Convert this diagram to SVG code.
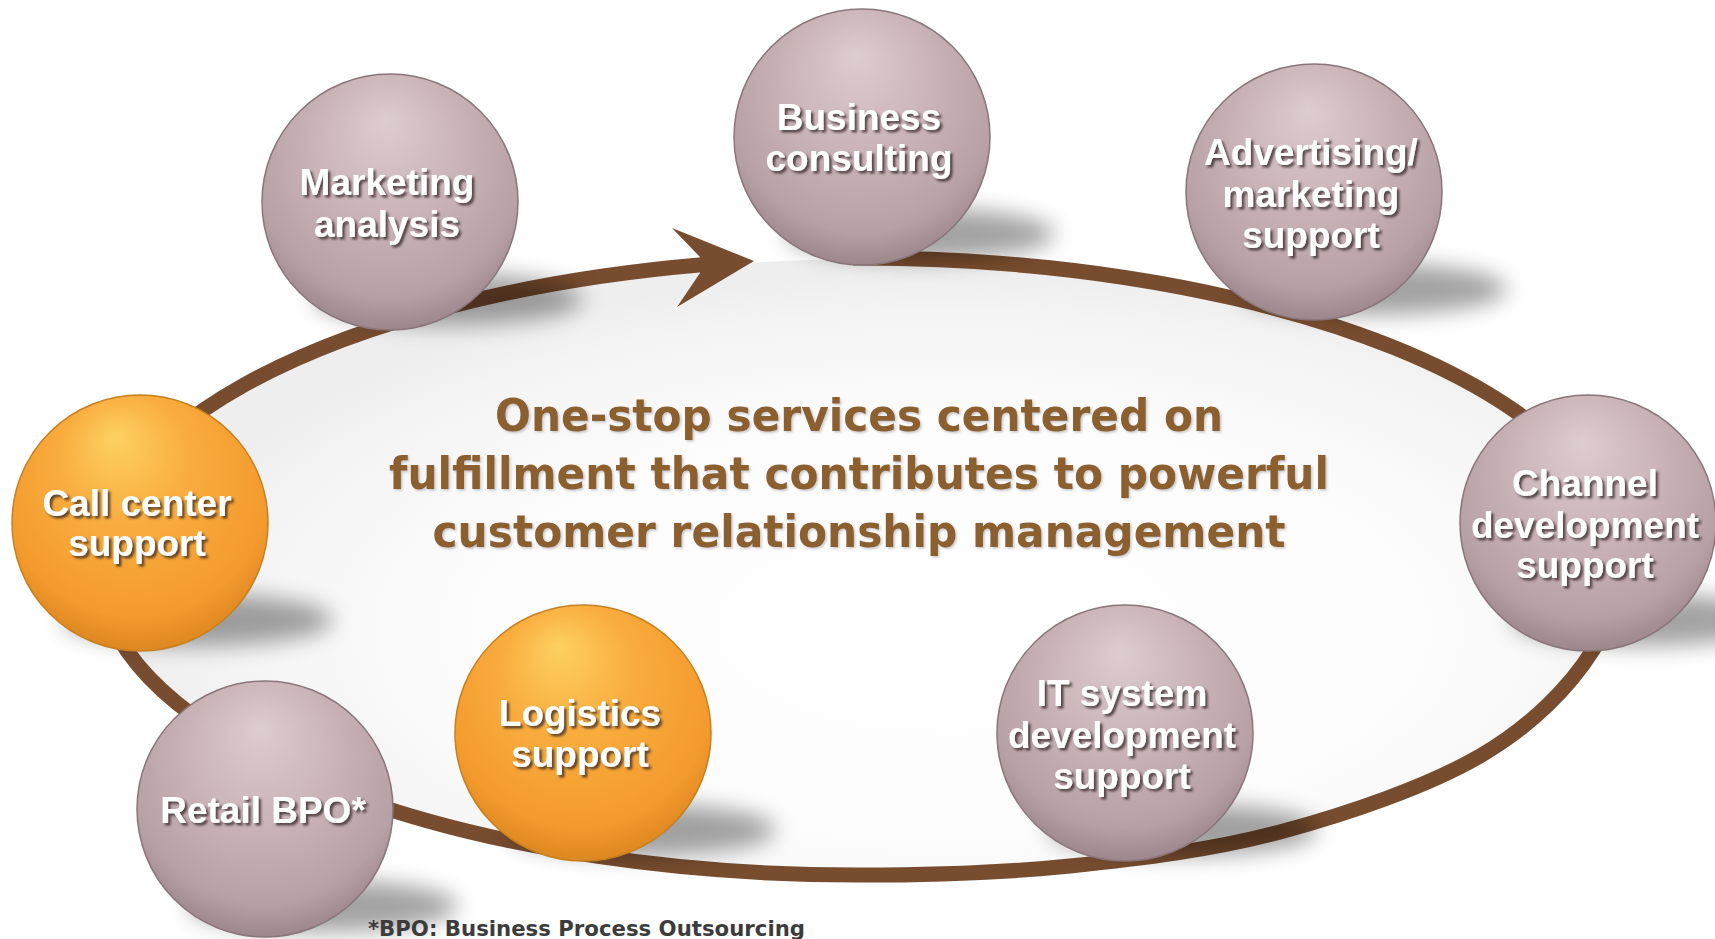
<svg xmlns="http://www.w3.org/2000/svg" width="1715" height="939" viewBox="0 0 1715 939">
<defs>
<style>
.lbl{font-family:"Liberation Sans",Arial,sans-serif;font-weight:bold;font-size:37px;fill:#ffffff;text-anchor:middle;filter:url(#fLbl)}
.ttl{font-family:"DejaVu Sans",Verdana,sans-serif;font-weight:bold;font-size:44px;fill:#8b5e2e;text-anchor:middle;filter:url(#fTtl)}
.note{font-family:"DejaVu Sans",Verdana,sans-serif;font-weight:bold;font-size:21px;fill:#3c3c3c}
.mauve{fill:url(#gMauve);stroke:#8a767a;stroke-width:1.5}
.orange{fill:url(#gOrange);stroke:#c7801f;stroke-width:1.5}
.shadow{fill:#000;opacity:0.36;filter:url(#fSh)}
.ring{fill:none;stroke:#784d2f;stroke-width:15}
</style>
<radialGradient id="gMauve" cx="0.5" cy="0.38" r="0.64" fx="0.48" fy="0.18">
<stop offset="0" stop-color="#ddccd0"/>
<stop offset="0.45" stop-color="#cab4b8"/>
<stop offset="0.82" stop-color="#b7a1a6"/>
<stop offset="1" stop-color="#988388"/>
</radialGradient>
<radialGradient id="gOrange" cx="0.5" cy="0.38" r="0.64" fx="0.4" fy="0.16">
<stop offset="0" stop-color="#fdd062"/>
<stop offset="0.4" stop-color="#f9ad3e"/>
<stop offset="0.82" stop-color="#f49a2e"/>
<stop offset="1" stop-color="#d9841f"/>
</radialGradient>
<radialGradient id="gBg" gradientUnits="userSpaceOnUse" cx="0" cy="0" r="1" gradientTransform="translate(950 630) scale(820 360)">
<stop offset="0" stop-color="#ffffff"/>
<stop offset="0.6" stop-color="#fcfcfc"/>
<stop offset="0.88" stop-color="#f4f4f4"/>
<stop offset="1" stop-color="#eeeeee"/>
</radialGradient>
<filter id="fSh" x="-30%" y="-100%" width="160%" height="300%">
<feGaussianBlur stdDeviation="11"/>
</filter>
<filter id="fLbl" x="-10%" y="-30%" width="120%" height="160%">
<feDropShadow dx="2.5" dy="2.5" stdDeviation="1.2" flood-color="#2e2224" flood-opacity="0.75"/>
</filter>
<filter id="fTtl" x="-5%" y="-30%" width="110%" height="160%">
<feDropShadow dx="1.5" dy="1.5" stdDeviation="1.2" flood-color="#9a9a9a" flood-opacity="0.55"/>
</filter>
</defs>

<rect x="0" y="0" width="1715" height="939" fill="#ffffff"/>
<path id="interior" fill="url(#gBg)" d="M 853 258.1 A 760 308.5 0 0 1 1514 410.4 C 1559.3 441.7 1602.8 500.1 1616 540 C 1629.2 579.9 1615.7 614 1593 650 C 1570.3 686 1532.2 725.7 1480 756 C 1427.8 786.3 1348.3 813.7 1280 832 C 1211.7 850.3 1140 858.8 1070 866 C 1000 873.2 930 875.1 860 875.1 A 760 308.5 0 0 1 702 264.7 Z"/>

<g id="connectors">
<path class="ring" d="M 853 258.1 A 760 308.5 0 0 1 1514 410.4 C 1559.3 441.7 1602.8 500.1 1616 540 C 1629.2 579.9 1615.7 614 1593 650 C 1570.3 686 1532.2 725.7 1480 756 C 1427.8 786.3 1348.3 813.7 1280 832 C 1211.7 850.3 1140 858.8 1070 866 C 1000 873.2 930 875.1 860 875.1 A 760 308.5 0 0 1 702 264.7"/>
<polygon fill="#784d2f" points="754,261 672,228 700,257 700,273 677,307"/>
</g>

<g id="node-marketing-analysis">
<ellipse class="shadow" cx="448" cy="299" rx="135" ry="26"/>
<circle class="mauve" cx="390" cy="202" r="128"/>
<text class="lbl" x="387" y="195">Marketing</text>
<text class="lbl" x="387" y="237">analysis</text>
</g>

<g id="node-business-consulting">
<ellipse class="shadow" cx="920" cy="234" rx="135" ry="26"/>
<circle class="mauve" cx="862" cy="137" r="128"/>
<text class="lbl" x="859" y="130">Business</text>
<text class="lbl" x="859" y="171">consulting</text>
</g>

<g id="node-advertising">
<ellipse class="shadow" cx="1372" cy="289" rx="135" ry="26"/>
<circle class="mauve" cx="1314" cy="192" r="128"/>
<text class="lbl" x="1311" y="165">Advertising/</text>
<text class="lbl" x="1311" y="207">marketing</text>
<text class="lbl" x="1311" y="248">support</text>
</g>

<g id="node-channel">
<ellipse class="shadow" cx="1646" cy="620" rx="135" ry="26"/>
<circle class="mauve" cx="1588" cy="523" r="128"/>
<text class="lbl" x="1585" y="496">Channel</text>
<text class="lbl" x="1585" y="538">development</text>
<text class="lbl" x="1585" y="578">support</text>
</g>

<g id="node-it-system">
<ellipse class="shadow" cx="1183" cy="830" rx="135" ry="26"/>
<circle class="mauve" cx="1125" cy="733" r="128"/>
<text class="lbl" x="1122" y="706">IT system</text>
<text class="lbl" x="1122" y="748">development</text>
<text class="lbl" x="1122" y="789">support</text>
</g>

<g id="node-logistics">
<ellipse class="shadow" cx="641" cy="830" rx="135" ry="26"/>
<circle class="orange" cx="583" cy="733" r="128"/>
<text class="lbl" x="580" y="726">Logistics</text>
<text class="lbl" x="580" y="767">support</text>
</g>

<g id="node-retail-bpo">
<ellipse class="shadow" cx="323" cy="906" rx="135" ry="26"/>
<circle class="mauve" cx="265" cy="809" r="128"/>
<text class="lbl" x="263" y="823">Retail BPO*</text>
</g>

<g id="node-call-center">
<ellipse class="shadow" cx="198" cy="620" rx="135" ry="26"/>
<circle class="orange" cx="140" cy="523" r="128"/>
<text class="lbl" x="137" y="516">Call center</text>
<text class="lbl" x="137" y="556">support</text>
</g>

<g id="title">
<text class="ttl" x="859" y="431" textLength="728" lengthAdjust="spacingAndGlyphs">One-stop services centered on</text>
<text class="ttl" x="859" y="489" textLength="940" lengthAdjust="spacingAndGlyphs">fulfillment that contributes to powerful</text>
<text class="ttl" x="859" y="547" textLength="853" lengthAdjust="spacingAndGlyphs">customer relationship management</text>
</g>

<text class="note" x="368" y="936" textLength="437" lengthAdjust="spacingAndGlyphs">*BPO: Business Process Outsourcing</text>
</svg>
